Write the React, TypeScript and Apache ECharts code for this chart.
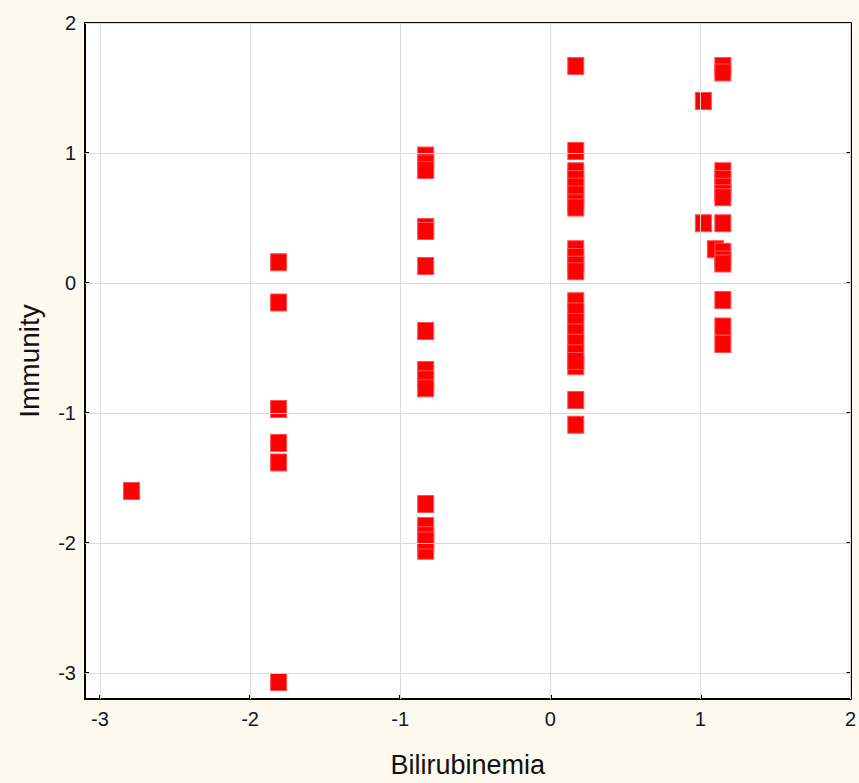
import React, { useEffect, useRef } from "react";
import * as echarts from "echarts";

const bilirubinemia: number[] = [
  -2.79,
  -1.81, -1.81, -1.81, -1.81, -1.81, -1.81,
  -0.83, -0.83, -0.83, -0.83, -0.83, -0.83, -0.83, -0.83, -0.83, -0.83, -0.83, -0.83, -0.83, -0.83, -0.83, -0.83,
  0.17, 0.17, 0.17, 0.17, 0.17, 0.17, 0.17, 0.17, 0.17, 0.17, 0.17, 0.17, 0.17, 0.17, 0.17, 0.17, 0.17, 0.17, 0.17, 0.17, 0.17, 0.17,
  1.02, 1.02, 1.1,
  1.15, 1.15, 1.15, 1.15, 1.15, 1.15, 1.15, 1.15, 1.15, 1.15, 1.15, 1.15, 1.15, 1.15,
];
const immunity: number[] = [
  -1.6,
  0.16, -0.15, -0.97, -1.23, -1.38, -3.07,
  0.98, 0.92, 0.87, 0.43, 0.4, 0.13, -0.37, -0.67, -0.74, -0.81, -1.7, -1.87, -1.94, -2.0, -2.06,
  -1.98,
  1.67, 1.015, 0.86, 0.8, 0.74, 0.68, 0.62, 0.58, 0.26, 0.2, 0.14, 0.09, -0.14, -0.22, -0.3, -0.38, -0.46, -0.54, -0.64, -0.9, -1.09,
  -0.6,
  1.4, 0.46, 0.26,
  1.67, 1.62, 0.86, 0.8, 0.74, 0.69, 0.66, 0.46, 0.24, 0.18, 0.15, -0.13, -0.335, -0.47,
];

const tickValues: number[] = [-3, -2, -1, 0, 1, 2];
const xRange = { min: -3.1, max: 2 };
const yRange = { min: -3.2, max: 2 };

export default function App() {
  const ref = useRef<HTMLDivElement>(null);
  useEffect(() => {
    if (!ref.current) return;
    const chart = echarts.init(ref.current, undefined, { renderer: "svg" });
    const data = bilirubinemia.map((x, i) => [x, immunity[i]]);
    const font = "'Liberation Sans', Arial, sans-serif";
    const axisLine = { show: true, onZero: false, lineStyle: { color: "#000", width: 2 } };
    const axisTick = { show: true, inside: true, length: 4, customValues: tickValues, lineStyle: { color: "#000", width: 2 } };
    const labelStyle = { color: "#101828", fontSize: 20, fontFamily: font };
    chart.setOption({
      animation: false,
      backgroundColor: "#fef9ee",
      grid: { left: 85, right: 7, top: 23, bottom: 83, show: true, backgroundColor: "#ffffff", borderWidth: 0 },
      xAxis: [
        {
          type: "value",
          min: xRange.min,
          max: xRange.max,
          axisLine,
          axisTick,
          splitLine: { show: false },
          axisLabel: { ...labelStyle, customValues: tickValues, margin: 10 },
          name: "Bilirubinemia",
          nameLocation: "middle",
          nameGap: 52,
          nameTextStyle: { color: "#111", fontSize: 27, fontFamily: font },
        },
        {
          type: "value",
          position: "top",
          min: xRange.min,
          max: xRange.max,
          axisLine,
          axisTick: { show: false },
          axisLabel: { show: false },
          splitLine: { show: false },
        },
      ],
      yAxis: [
        {
          type: "value",
          min: yRange.min,
          max: yRange.max,
          axisLine,
          axisTick,
          splitLine: { show: false },
          axisLabel: { ...labelStyle, customValues: tickValues, margin: 9 },
          name: "Immunity",
          nameLocation: "middle",
          nameGap: 42,
          nameTextStyle: { color: "#111", fontSize: 28, fontFamily: font },
        },
        {
          type: "value",
          position: "right",
          min: yRange.min,
          max: yRange.max,
          axisLine,
          axisTick,
          axisLabel: { show: false },
          splitLine: { show: false },
        },
      ],
      series: [
        {
          type: "line",
          data: [],
          silent: true,
          markLine: {
            silent: true,
            symbol: "none",
            label: { show: false },
            lineStyle: { color: "#dadada", width: 1, type: "solid" },
            data: [
              ...tickValues.map((v) => ({ yAxis: v })),
              ...tickValues.map((v) => ({ xAxis: v })),
            ],
          },
        },
        {
          type: "scatter",
          data,
          symbol: "rect",
          symbolSize: [16, 17],
          itemStyle: { color: "#ff0000", borderColor: "#ff5050", borderWidth: 1, opacity: 1 },
        },
      ],
    });
    return () => chart.dispose();
  }, []);
  return <div ref={ref} style={{ position: "fixed", left: 0, top: 0, width: 859, height: 783 }} />;
}
